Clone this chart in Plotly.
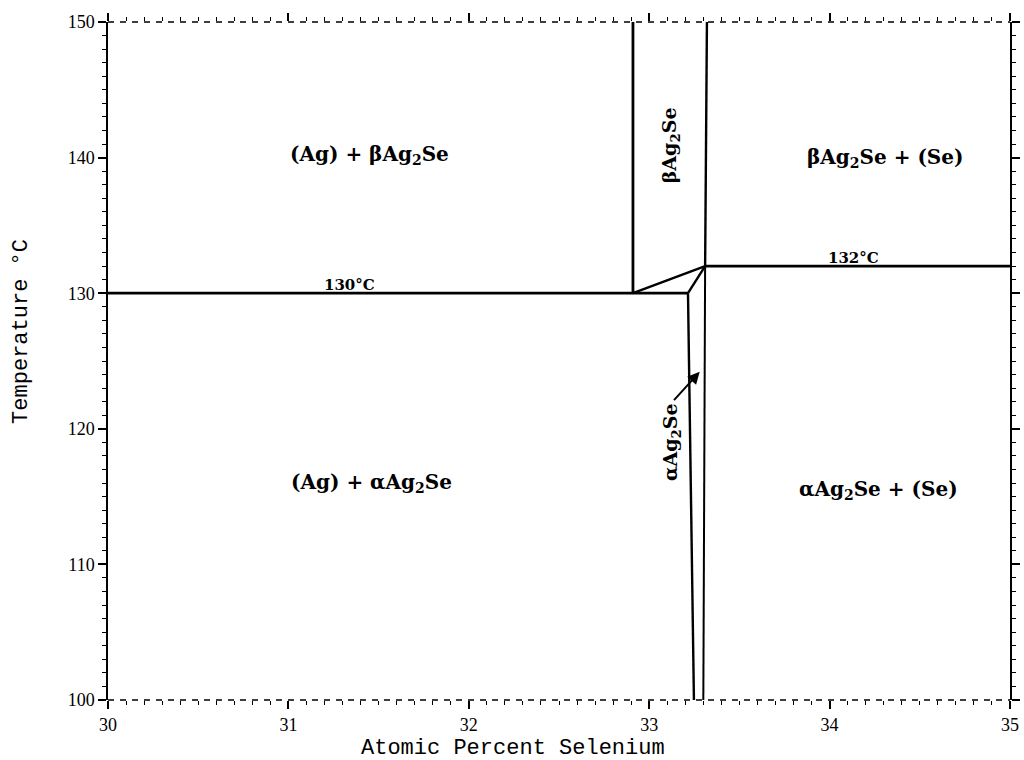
import plotly.graph_objects as go

# Phase boundaries of the Ag-Se system near Ag2Se (at.% Se, °C)
eutectoid_x = [30.0, 32.91, 33.215]
eutectoid_t = [130, 130, 130]

beta_left_x = [32.91, 32.91]
beta_left_t = [130, 150]
beta_low_x = [32.91, 33.31]
beta_low_t = [130, 132]
beta_right_x = [33.31, 33.32]
beta_right_t = [132, 150]

monotectoid_x = [33.31, 35.0]
monotectoid_t = [132, 132]

alpha_left_x = [33.248, 33.215]
alpha_left_t = [100, 130]
alpha_top_x = [33.215, 33.31]
alpha_top_t = [130, 132]
alpha_right_x = [33.30, 33.31]
alpha_right_t = [100, 132]

# Region labels: text, x, temperature, angle
region_text = ["(Ag) + βAg<sub>2</sub>Se", "βAg<sub>2</sub>Se + (Se)",
               "(Ag) + αAg<sub>2</sub>Se", "αAg<sub>2</sub>Se + (Se)",
               "βAg<sub>2</sub>Se", "αAg<sub>2</sub>Se",
               "130°C", "132°C"]
region_x = [31.45, 34.31, 31.46, 34.27, 33.12, 33.125, 31.34, 34.13]
region_t = [140.2, 140.0, 116.0, 115.5, 140.9, 119.0, 130.6, 132.6]
region_angle = [0, 0, 0, 0, -90, -90, 0, 0]
region_size = [20, 20, 20, 20, 19, 19, 15, 15]

x_ticks = [30, 31, 32, 33, 34, 35]
t_ticks = [100, 110, 120, 130, 140, 150]

x_title = "Atomic Percent Selenium"
y_title = "Temperature °C"

segments = [
    (eutectoid_x, eutectoid_t, 2.8),
    (beta_left_x, beta_left_t, 2.8),
    (beta_low_x, beta_low_t, 2.4),
    (beta_right_x, beta_right_t, 2.4),
    (monotectoid_x, monotectoid_t, 2.8),
    (alpha_left_x, alpha_left_t, 2.4),
    (alpha_top_x, alpha_top_t, 2.4),
    (alpha_right_x, alpha_right_t, 2.0),
]

fig = go.Figure()
for xs, ts, w in segments:
    fig.add_trace(go.Scatter(x=xs, y=ts, mode="lines",
                             line=dict(color="black", width=w),
                             hoverinfo="skip", showlegend=False))

label_font = "DejaVu Serif"
for txt, x, t, ang, sz in zip(region_text, region_x, region_t, region_angle, region_size):
    fig.add_annotation(x=x, y=t, text=txt, showarrow=False, textangle=ang,
                       font=dict(family=label_font, size=sz, color="black", weight="bold"))

# pointer to the narrow alpha field
fig.add_annotation(x=33.28, y=124.2, ax=33.13, ay=122.0, axref="x", ayref="y",
                   text="", showarrow=True, arrowhead=2, arrowsize=1.2,
                   arrowwidth=2, arrowcolor="black")

# dashed top and bottom frame edges
for yy in (0, 1):
    fig.add_shape(type="line", xref="paper", yref="paper", x0=0, x1=1, y0=yy, y1=yy,
                  line=dict(color="black", width=1.5, dash="6px,6px"))

tick_font = dict(family="Liberation Serif", size=18, color="black")
title_font = dict(family="Liberation Mono", size=22, color="black")

# axis titles placed as paper annotations
fig.add_annotation(xref="paper", yref="paper", x=0.449, y=-0.0715, yanchor="middle",
                   text=x_title, showarrow=False, font=title_font)
fig.add_annotation(xref="paper", yref="paper", x=-0.0953, y=0.543, xanchor="center",
                   text=y_title, showarrow=False, textangle=-90, font=title_font)

fig.update_xaxes(range=[30, 35], tickvals=x_ticks, ticktext=[str(v) for v in x_ticks],
                 showgrid=False, zeroline=False, showline=False, automargin=False,
                 ticks="outside", ticklen=8, tickwidth=1.5, tickcolor="black",
                 mirror="ticks",
                 minor=dict(dtick=0.1, ticks="outside", ticklen=4, tickwidth=1,
                            tickcolor="black", showgrid=False),
                 tickfont=tick_font)
fig.update_yaxes(range=[100, 150], tickvals=t_ticks, ticktext=[str(v) for v in t_ticks],
                 showgrid=False, zeroline=False, showline=True, linecolor="black",
                 linewidth=1.5, mirror="ticks", automargin=False,
                 ticks="outside", ticklen=8, tickwidth=1.5, tickcolor="black",
                 minor=dict(dtick=1, ticks="outside", ticklen=4, tickwidth=1,
                            tickcolor="black", showgrid=False),
                 tickfont=tick_font)

fig.update_layout(width=1024, height=760, autosize=False,
                  margin=dict(l=108, r=14, t=22, b=60),
                  plot_bgcolor="white", paper_bgcolor="white", showlegend=False)

fig.write_html("out.html")
